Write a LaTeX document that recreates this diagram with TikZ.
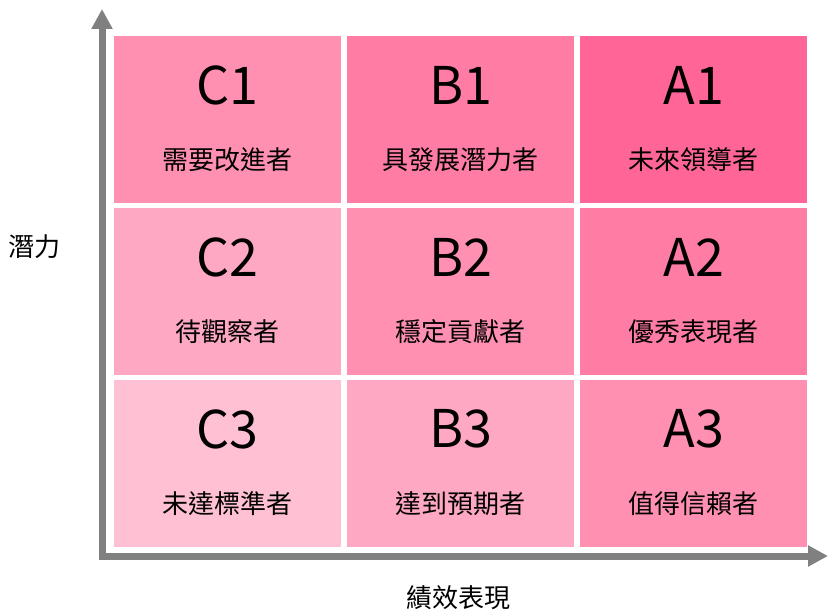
\documentclass[tikz,border=0pt]{standalone}
\usepackage{fontspec}
\setmainfont{Noto Sans CJK TC}
\usetikzlibrary{arrows.meta}
\definecolor{pA}{HTML}{FF6697}
\definecolor{pB}{HTML}{FF7CA5}
\definecolor{pC}{HTML}{FF90B2}
\definecolor{pD}{HTML}{FFA8C4}
\definecolor{pE}{HTML}{FFC0D3}
\definecolor{axisgray}{HTML}{808080}
\tikzset{
  cell/.style={draw=none, minimum width=227pt, minimum height=167pt, inner sep=0pt},
  grade/.style={font=\fontsize{52}{52}\selectfont, inner sep=0pt},
  desc/.style={font=\fontsize{26}{26}\selectfont, inner sep=0pt},
  axislabel/.style={font=\fontsize{26}{26}\selectfont, inner sep=0pt},
  axisline/.style={draw=axisgray, line width=7pt, -{Triangle[length=20pt, width=20pt]}}
}
\begin{document}
\begin{tikzpicture}[x=1pt, y=-1pt]
\useasboundingbox (0,0) rectangle (828,615);
\def\cellrow#1#2#3#4#5#6#7#8#9{}
% columns x: 114, 347, 580 ; rows y: 36, 208, 380
\foreach \n/\x/\y/\c/\g/\t in {
  c1/114/36/pC/C1/需要改進者,
  b1/347/36/pB/B1/具發展潛力者,
  a1/580/36/pA/A1/未來領導者,
  c2/114/208/pD/C2/待觀察者,
  b2/347/208/pC/B2/穩定貢獻者,
  a2/580/208/pB/A2/優秀表現者,
  c3/114/380/pE/C3/未達標準者,
  b3/347/380/pD/B3/達到預期者,
  a3/580/380/pC/A3/值得信賴者}{
  \node[cell, fill=\c, anchor=north west] (\n) at (\x,\y) {};
  \node[grade] (\n-g) at ([yshift=-49pt]\n.north) {\g};
  \node[desc] (\n-d) at ([yshift=-124pt]\n.north) {\t};
}
\coordinate (origin) at (102,556);
\coordinate (ytip) at (102,9);
\coordinate (xtip) at (828,556);
\draw[axisline] (102,560) -- (ytip);
\draw[axisline] (98.5,556) -- (xtip);
\node[axislabel] (ylab) at (35,247) {潛力};
\node[axislabel] (xlab) at (458,598) {績效表現};
\end{tikzpicture}
\end{document}
